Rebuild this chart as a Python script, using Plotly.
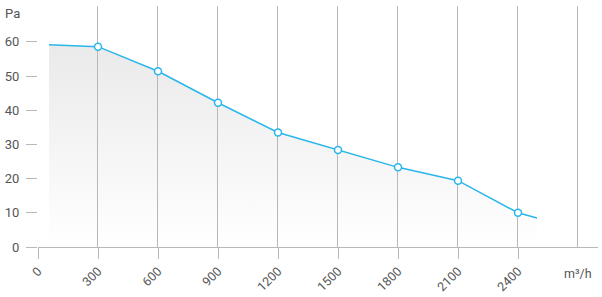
import plotly.graph_objects as go

flow = [55, 300, 600, 900, 1200, 1500, 1800, 2100, 2400, 2495]
pressure = [59.2, 58.6, 51.4, 42.2, 33.5, 28.4, 23.3, 19.4, 10.0, 8.5]
marker_flow = [300, 600, 900, 1200, 1500, 1800, 2100, 2400]
marker_pressure = [58.6, 51.4, 42.2, 33.5, 28.4, 23.3, 19.4, 10.0]
x_ticks = [0, 300, 600, 900, 1200, 1500, 1800, 2100, 2400]
grid_x = [0, 300, 600, 900, 1200, 1500, 1800, 2100, 2400, 2700]
y_ticks = [0, 10, 20, 30, 40, 50, 60]
y_top = 70.5

line_color = "#29b6ea"
grid = "#b8b8b8"
x_max = 2800
plot_w = 602 - 38 - 4
half_px = 0.5 * x_max / plot_w  # align 1px gridlines to the pixel grid

fig = go.Figure()
fig.add_trace(go.Scatter(
    x=flow, y=pressure, mode="lines", fill="tozeroy",
    line=dict(color="rgba(0,0,0,0)", width=0),
    fillgradient=dict(type="vertical", colorscale=[[0, "rgba(255,255,255,1)"], [1, "rgba(234,234,234,1)"]]),
    hoverinfo="skip", showlegend=False,
))
gx, gy = [], []
for v in grid_x:
    gx += [v - half_px, v - half_px, None]
    gy += [0, y_top, None]
fig.add_trace(go.Scatter(
    x=gx, y=gy, mode="lines", line=dict(color=grid, width=1),
    hoverinfo="skip", showlegend=False, cliponaxis=False,
))
fig.add_trace(go.Scatter(
    x=flow, y=pressure, mode="lines",
    line=dict(color=line_color, width=1.5),
    hoverinfo="skip", showlegend=False,
))
fig.add_trace(go.Scatter(
    x=marker_flow, y=marker_pressure, mode="markers",
    marker=dict(size=7, color="white", line=dict(color=line_color, width=1.5)),
    showlegend=False,
))

fig.update_layout(
    width=602, height=297,
    margin=dict(l=38, r=4, t=6, b=50),
    paper_bgcolor="white", plot_bgcolor="white",
    font=dict(family="Roboto, Arial, sans-serif", size=12, color="#555"),
    xaxis=dict(range=[0, x_max], tickvals=x_ticks, ticktext=[str(v) for v in x_ticks],
               tickangle=-45, showgrid=False,
               ticks="outside", ticklen=11, tickcolor=grid,
               showline=True, linecolor=grid, linewidth=1, zeroline=False,
               tickfont=dict(size=12.5, color="#555")),
    yaxis=dict(range=[0, y_top], tickvals=y_ticks, showgrid=False,
               ticks="outside", ticklen=11, tickcolor=grid,
               showline=False, zeroline=False, ticklabelstandoff=4,
               tickfont=dict(size=13, color="#555")),
    annotations=[
        dict(text="Pa", xref="paper", yref="paper", x=-0.062, y=0.97, showarrow=False,
             xanchor="left", yanchor="middle", font=dict(size=13, color="#555")),
        dict(text="m³/h", xref="x", yref="paper", x=2700, y=-0.07, showarrow=False,
             xanchor="center", yanchor="top", font=dict(size=12.5, color="#555")),
    ],
)
fig.write_html("out.html")
